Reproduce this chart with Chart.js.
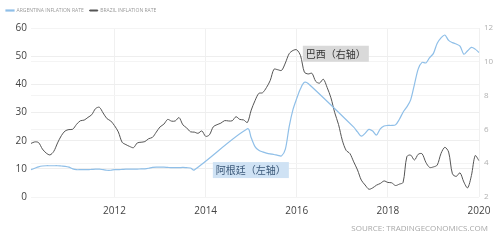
<!DOCTYPE html>
<html>
<head>
<meta charset="utf-8">
<script src="https://cdn.jsdelivr.net/npm/chart.js@4"></script>
<style>
  html, body { margin: 0; padding: 0; background: #fff; }
  #wrap { width: 500px; height: 240px; position: relative; }
</style>
</head>
<body>
<div id="wrap"><canvas id="chart" width="500" height="240"></canvas></div>
<script>
// monthly, March 2010 .. January 2020
const startYear = 2010, startMonth = 3, monthCount = 119;

// Argentina (left axis, %) - null where the source series has no readings
const argentina = [
  9.7, 10.2, 10.7, 11.0, 11.1, 11.1, 11.1, 11.1, 11.0, 10.9,
  10.6, 10.0, 9.7, 9.7, 9.7, 9.7, 9.8, 9.9, 9.9, 9.7, 9.5, 9.5,
  9.7, 9.7, 9.8, 9.9, 9.9, 9.9, 9.9, 10.0, 10.0, 10.2, 10.5, 10.6,
  10.6, 10.6, 10.5, 10.4, 10.4, 10.4, 10.5, 10.4, 10.3, 9.6, null, null,
  null, null, null, null, null, null, null, null, null, null, null, 24.2,
  21.0, 17.9, 16.6, 16.0, 15.6, 15.3, 15.1, 14.8, 14.6, 17.0, 25.0, 31.0,
  35.0, 38.5, 40.7, 40.3, null, null, null, null, null, null, null, null,
  null, null, null, 24.8, 23.1, 21.6, 22.6, 24.0, 23.4, 22.0, 24.2, 25.2,
  25.4, 25.4, 25.6, 27.5, 30.1, 32.0, 34.5, 40.0, 45.5, 47.8, 47.6, 49.5,
  51.0, 54.6, 56.5, 57.5, 55.6, 54.8, 54.3, 53.6, 50.7, 51.9, 53.1, 52.5,
  51.3
];

// Brazil (right axis, %)
const brazil = [
  5.17, 5.26, 5.22, 4.84, 4.60, 4.49, 4.70, 5.20, 5.63, 5.91,
  5.99, 6.01, 6.30, 6.51, 6.55, 6.71, 6.87, 7.23, 7.31, 6.97, 6.64, 6.50,
  6.22, 5.85, 5.24, 5.10, 4.99, 4.92, 5.20, 5.24, 5.28, 5.45, 5.53, 5.84,
  6.15, 6.31, 6.59, 6.49, 6.50, 6.70, 6.27, 6.09, 5.86, 5.84, 5.77, 5.91,
  5.59, 5.68, 6.15, 6.28, 6.37, 6.52, 6.50, 6.51, 6.75, 6.59, 6.56, 6.41,
  7.14, 7.70, 8.13, 8.17, 8.47, 8.89, 9.56, 9.53, 9.49, 9.93, 10.48, 10.67,
  10.71, 10.36, 9.39, 9.28, 9.32, 8.84, 8.74, 8.97, 8.48, 7.87, 6.99, 6.29,
  5.35, 4.76, 4.57, 4.08, 3.60, 3.00, 2.71, 2.46, 2.54, 2.70, 2.80, 2.95,
  2.86, 2.84, 2.68, 2.76, 2.86, 4.39, 4.48, 4.19, 4.53, 4.56, 4.05, 3.75,
  3.78, 3.89, 4.58, 4.94, 4.66, 3.37, 3.22, 3.43, 2.89, 2.54, 3.27, 4.45,
  4.15
];

const leftTicks = [0, 10, 20, 30, 40, 50, 60];
const rightTicks = [2, 4, 6, 8, 10, 12];
const yearTicks = [2012, 2014, 2016, 2018, 2020];

const labels = [];
for (let i = 0; i < monthCount; i++) {
  const m = startMonth - 1 + i;
  const y = startYear + Math.floor(m / 12);
  labels.push(y + "-" + String((m % 12) + 1).padStart(2, "0"));
}

// text boxes pinned to the chart's own scales
const notes = {
  id: "notes",
  beforeLayout(chart) {
    // a bit more room under the legend than Chart.js gives by default
    const lg = chart.legend;
    if (lg && !lg._padded) {
      const fit = lg.fit;
      lg.fit = function () { fit.call(this); this.height += 5; };
      lg._padded = true;
    }
  },
  afterDatasetsDraw(chart) {
    const { ctx, scales } = chart;
    const box = (text, xi, yv, axis, bg, fg) => {
      const x = scales.x.getPixelForValue(xi);
      const y = scales[axis].getPixelForValue(yv);
      ctx.save();
      ctx.font = '10px "Noto Sans CJK SC"';
      const w = ctx.measureText(text).width + 6;
      ctx.fillStyle = bg;
      ctx.fillRect(x, y, w, 16);
      ctx.fillStyle = fg;
      ctx.textBaseline = "middle";
      ctx.fillText(text, x + 3, y + 8.5);
      ctx.restore();
    };
    box("巴西（右轴）", 71.6, 10.95, "y1", "#d9d9d9", "#333333");
    box("阿根廷（左轴）", 47.9, 12.4, "y", "#cfe2f4", "#3b5878");
  },
  afterDraw(chart) {
    const { ctx } = chart;
    ctx.save();
    ctx.font = '8px "Open Sans"';
    ctx.fillStyle = "#a8a8a8";
    ctx.textAlign = "right";
    ctx.textBaseline = "middle";
    ctx.fillText("SOURCE: TRADINGECONOMICS.COM", 488, 229);
    ctx.restore();
  }
};

new Chart(document.getElementById("chart"), {
  type: "line",
  data: {
    labels: labels,
    datasets: [
      {
        label: "ARGENTINA INFLATION RATE",
        data: argentina,
        yAxisID: "y",
        borderColor: "#8fbfe8",
        backgroundColor: "#8fbfe8",
        borderWidth: 1.2,
        pointRadius: 0,
        tension: 0.3,
        spanGaps: true,
      },
      {
        label: "BRAZIL INFLATION RATE",
        data: brazil,
        yAxisID: "y1",
        borderColor: "#555555",
        backgroundColor: "#555555",
        borderWidth: 1,
        pointRadius: 0,
        tension: 0.3,
      },
    ],
  },
  options: {
    responsive: false,
    animation: false,
    layout: { padding: { left: 0, right: 0, top: 2, bottom: 0 } },
    plugins: {
      tooltip: { enabled: false },
      legend: {
        position: "top",
        align: "start",
        labels: {
          boxWidth: 8,
          boxHeight: 1,
          padding: 6,
          color: "#999",
          font: { size: 5, family: "Open Sans" },
        },
      },
    },
    scales: {
      x: {
        grid: { color: "#f0f0f0", drawTicks: false },
        border: { display: false },
        ticks: {
          autoSkip: false,
          maxRotation: 0,
          padding: 8,
          color: "#444",
          font: { size: 10, family: "Open Sans" },
          callback: function (v) {
            const l = this.getLabelForValue(v);
            const yr = Number(l.slice(0, 4));
            return l.endsWith("-01") && yearTicks.includes(yr) ? String(yr) : null;
          },
        },
        afterFit: (s) => { s.height = 43; },
      },
      y: {
        position: "left",
        min: 0,
        max: 60,
        afterBuildTicks: (s) => { s.ticks = leftTicks.map((v) => ({ value: v })); },
        grid: { color: "#eeeeee", drawTicks: false },
        border: { display: false },
        ticks: { padding: 4, color: "#444", font: { size: 10, family: "Open Sans" } },
        afterFit: (s) => { s.width = 31; },
      },
      y1: {
        position: "right",
        min: 2,
        max: 12,
        afterBuildTicks: (s) => { s.ticks = rightTicks.map((v) => ({ value: v })); },
        grid: { color: "#f4f4f4", drawTicks: false },
        border: { display: false },
        ticks: { padding: 5, color: "#b0b0b0", font: { size: 8, family: "Open Sans" } },
        afterFit: (s) => { s.width = 21; },
      },
    },
  },
  plugins: [notes],
});
</script>
</body>
</html>
